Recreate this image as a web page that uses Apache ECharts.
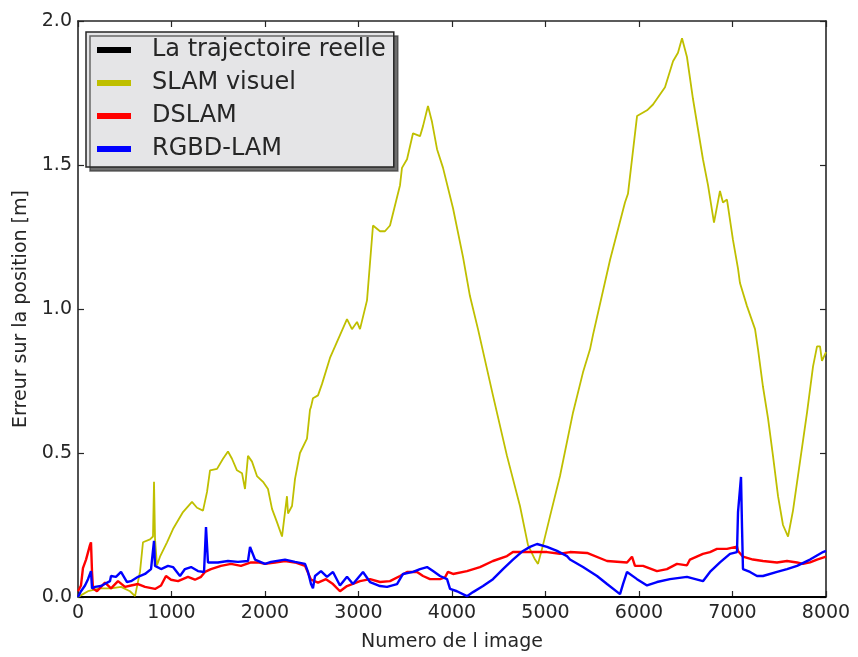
<!DOCTYPE html>
<html>
<head>
<meta charset="utf-8">
<script src="https://cdn.jsdelivr.net/npm/echarts@6/dist/echarts.min.js"></script>
<style>
  html, body { margin: 0; padding: 0; background: #ffffff; }
  #chart { width: 858px; height: 657px; }
</style>
</head>
<body>
<div id="chart"></div>
<script>
// Position error per frame index, for each method: [frame, error in metres]
const seriesNames = ['La trajectoire reelle', 'SLAM visuel', 'DSLAM', 'RGBD-LAM'];

const trajectoireReelle = [[0, 0], [8000, 0]];

const slamVisuel = [
  [0, 0.0], [53, 0.01], [107, 0.02], [235, 0.03], [353, 0.03], [460, 0.035], [556, 0.02],
  [610, 0.003], [631, 0.0], [663, 0.087], [695, 0.19], [770, 0.2], [802, 0.21], [813, 0.40],
  [824, 0.2], [845, 0.11], [877, 0.14], [952, 0.19], [1016, 0.236], [1123, 0.295], [1219, 0.33],
  [1273, 0.31], [1337, 0.30], [1380, 0.365], [1412, 0.44], [1487, 0.445], [1551, 0.48],
  [1604, 0.505], [1647, 0.48], [1700, 0.44], [1754, 0.43], [1786, 0.375], [1818, 0.49],
  [1861, 0.47], [1914, 0.42], [1979, 0.40], [2032, 0.375], [2075, 0.306], [2128, 0.26],
  [2182, 0.21], [2192, 0.212], [2235, 0.35], [2246, 0.29], [2289, 0.316], [2321, 0.41],
  [2374, 0.5], [2449, 0.55], [2481, 0.65], [2492, 0.66], [2513, 0.69], [2567, 0.70],
  [2610, 0.74], [2695, 0.83], [2749, 0.87], [2877, 0.965], [2930, 0.93], [2984, 0.955],
  [3016, 0.93], [3091, 1.03], [3155, 1.29], [3230, 1.27], [3283, 1.27], [3337, 1.29],
  [3444, 1.43], [3465, 1.49], [3519, 1.52], [3583, 1.61], [3658, 1.60], [3690, 1.635],
  [3743, 1.705], [3786, 1.65], [3840, 1.555], [3904, 1.49], [4011, 1.35], [4118, 1.18],
  [4192, 1.045], [4278, 0.93], [4438, 0.70], [4588, 0.49], [4727, 0.316], [4813, 0.18],
  [4888, 0.13], [4920, 0.115], [4973, 0.18], [5048, 0.28], [5155, 0.42], [5294, 0.64],
  [5401, 0.78], [5476, 0.86], [5508, 0.91], [5690, 1.17], [5850, 1.37], [5882, 1.40],
  [5979, 1.67], [6086, 1.69], [6150, 1.71], [6278, 1.77], [6364, 1.86], [6417, 1.89],
  [6460, 1.94], [6513, 1.875], [6577, 1.73], [6684, 1.52], [6738, 1.43], [6802, 1.30],
  [6866, 1.41], [6898, 1.37], [6941, 1.38], [7005, 1.24], [7059, 1.14], [7080, 1.09],
  [7155, 1.01], [7241, 0.93], [7273, 0.86], [7326, 0.73], [7380, 0.62], [7433, 0.49],
  [7487, 0.35], [7540, 0.25], [7594, 0.21], [7647, 0.30], [7722, 0.47], [7797, 0.64],
  [7861, 0.80], [7904, 0.87], [7936, 0.87], [7957, 0.82], [8000, 0.85]
];

const dslam = [
  [0, 0.02], [32, 0.04], [53, 0.10], [86, 0.13], [128, 0.18], [139, 0.19], [150, 0.087],
  [160, 0.03], [203, 0.02], [289, 0.05], [353, 0.03], [428, 0.055], [503, 0.035], [567, 0.04],
  [642, 0.045], [717, 0.035], [824, 0.028], [888, 0.04], [941, 0.073], [995, 0.06],
  [1070, 0.055], [1176, 0.07], [1251, 0.06], [1316, 0.07], [1358, 0.087], [1422, 0.097],
  [1529, 0.108], [1636, 0.115], [1743, 0.108], [1850, 0.12], [1925, 0.12], [2000, 0.115],
  [2107, 0.12], [2214, 0.125], [2321, 0.12], [2428, 0.108], [2492, 0.06], [2567, 0.05],
  [2652, 0.062], [2727, 0.045], [2802, 0.02], [2877, 0.038], [3016, 0.055], [3123, 0.062],
  [3230, 0.052], [3337, 0.055], [3444, 0.073], [3519, 0.087], [3626, 0.087], [3690, 0.073],
  [3765, 0.062], [3872, 0.062], [3925, 0.068], [3957, 0.087], [4011, 0.08], [4160, 0.09],
  [4299, 0.104], [4438, 0.125], [4588, 0.142], [4652, 0.156], [4759, 0.156], [4866, 0.156],
  [5016, 0.156], [5155, 0.15], [5262, 0.156], [5444, 0.153], [5658, 0.125], [5872, 0.12],
  [5925, 0.14], [5957, 0.108], [6043, 0.108], [6192, 0.09], [6299, 0.097], [6406, 0.115],
  [6513, 0.11], [6545, 0.13], [6684, 0.15], [6759, 0.156], [6834, 0.167], [6941, 0.167],
  [7048, 0.175], [7059, 0.16], [7112, 0.14], [7219, 0.13], [7326, 0.125], [7476, 0.12],
  [7583, 0.125], [7690, 0.12], [7754, 0.115], [7829, 0.12], [7904, 0.13], [8000, 0.14]
];

const rgbdLam = [
  [0, 0.0], [32, 0.02], [75, 0.04], [107, 0.062], [139, 0.09], [150, 0.03], [182, 0.035],
  [246, 0.038], [342, 0.055], [353, 0.073], [406, 0.07], [460, 0.087], [524, 0.052],
  [567, 0.055], [642, 0.07], [717, 0.08], [781, 0.097], [813, 0.195], [824, 0.108],
  [888, 0.097], [963, 0.108], [1016, 0.104], [1091, 0.073], [1144, 0.097], [1209, 0.104],
  [1283, 0.09], [1348, 0.087], [1369, 0.243], [1390, 0.12], [1497, 0.12], [1604, 0.125],
  [1711, 0.122], [1818, 0.125], [1840, 0.174], [1893, 0.13], [2000, 0.115], [2064, 0.122],
  [2214, 0.13], [2321, 0.122], [2428, 0.115], [2460, 0.087], [2492, 0.045], [2513, 0.03],
  [2535, 0.073], [2599, 0.09], [2663, 0.07], [2727, 0.087], [2802, 0.04], [2877, 0.07],
  [2941, 0.045], [3048, 0.087], [3123, 0.052], [3230, 0.038], [3305, 0.035], [3412, 0.045],
  [3476, 0.08], [3583, 0.087], [3658, 0.097], [3733, 0.104], [3797, 0.09], [3872, 0.073],
  [3947, 0.062], [3979, 0.028], [4053, 0.02], [4160, 0.003], [4225, 0.017], [4332, 0.038],
  [4438, 0.062], [4545, 0.097], [4652, 0.13], [4759, 0.16], [4834, 0.174], [4909, 0.184],
  [5016, 0.174], [5123, 0.16], [5230, 0.142], [5262, 0.13], [5401, 0.104], [5551, 0.073],
  [5658, 0.045], [5797, 0.01], [5829, 0.045], [5872, 0.087], [5979, 0.062], [6086, 0.04],
  [6192, 0.052], [6331, 0.062], [6513, 0.07], [6684, 0.055], [6759, 0.087], [6866, 0.12],
  [6973, 0.15], [7048, 0.156], [7059, 0.295], [7091, 0.417], [7102, 0.24], [7112, 0.097],
  [7187, 0.087], [7262, 0.073], [7326, 0.073], [7476, 0.087], [7583, 0.097], [7690, 0.108],
  [7829, 0.13], [7968, 0.156], [8000, 0.16]
];

const seriesColors = ['#000000', '#bfbf00', '#ff0000', '#0000ff'];
const seriesWidths = [2, 1.8, 2.4, 2.4];
const seriesData = [trajectoireReelle, slamVisuel, dslam, rgbdLam];

const FONT = 'DejaVu Sans';
const INK = '#262626';
const FRAME = '#262626';

const chart = echarts.init(document.getElementById('chart'), null, { renderer: 'canvas' });

const tickStyle = { show: true, inside: true, length: 6, lineStyle: { color: FRAME, width: 1.2 } };
const lineStyleAxis = { show: true, onZero: false, lineStyle: { color: FRAME, width: 1.6 } };

chart.setOption({
  backgroundColor: '#ffffff',
  animation: false,
  grid: { left: 78, right: 32, top: 21, bottom: 59, containLabel: false },
  legend: {
    orient: 'vertical',
    left: 86,
    top: 32,
    data: seriesNames.map((name, i) => ({
      name,
      icon: 'rect',
      itemStyle: { color: seriesColors[i], borderWidth: 0 },
      lineStyle: { color: seriesColors[i], width: 6 }
    })),
    itemWidth: 34,
    itemHeight: 6,
    itemGap: 9,
    padding: [6, 8, 6, 11],
    backgroundColor: '#e5e5e7',
    borderColor: '#262626',
    borderWidth: 1.5,
    shadowColor: 'rgba(60,60,60,0.75)',
    shadowBlur: 0,
    shadowOffsetX: 4,
    shadowOffsetY: 4,
    textStyle: { fontFamily: FONT, fontSize: 24, color: INK, lineHeight: 24, padding: [0, 0, 0, 16] }
  },
  xAxis: [
    {
      type: 'value', min: 0, max: 8000, interval: 1000, position: 'bottom',
      name: 'Numero de l image', nameLocation: 'middle', nameGap: 36,
      nameTextStyle: { fontFamily: FONT, fontSize: 19, color: INK },
      axisLine: lineStyleAxis, axisTick: tickStyle,
      axisLabel: { fontFamily: FONT, fontSize: 19, color: INK, margin: 7, formatter: v => String(v) },
      splitLine: { show: false }
    },
    {
      type: 'value', min: 0, max: 8000, interval: 1000, position: 'top',
      axisLine: lineStyleAxis, axisTick: tickStyle,
      axisLabel: { show: false }, splitLine: { show: false }
    }
  ],
  yAxis: [
    {
      type: 'value', min: 0, max: 2, interval: 0.5, position: 'left',
      name: 'Erreur sur la position [m]', nameLocation: 'middle', nameGap: 44,
      nameTextStyle: { fontFamily: FONT, fontSize: 19, color: INK },
      axisLine: lineStyleAxis, axisTick: tickStyle,
      axisLabel: { fontFamily: FONT, fontSize: 19, color: INK, margin: 6, formatter: v => v.toFixed(1) },
      splitLine: { show: false }
    },
    {
      type: 'value', min: 0, max: 2, interval: 0.5, position: 'right',
      axisLine: lineStyleAxis, axisTick: tickStyle,
      axisLabel: { show: false }, splitLine: { show: false }
    }
  ],
  series: seriesNames.map((name, i) => ({
    name,
    type: 'line',
    data: seriesData[i],
    xAxisIndex: 0,
    yAxisIndex: 0,
    showSymbol: false,
    symbol: 'none',
    clip: true,
    lineStyle: { color: seriesColors[i], width: seriesWidths[i] },
    itemStyle: { color: seriesColors[i] },
    z: 2 + i
  }))
});
</script>
</body>
</html>
